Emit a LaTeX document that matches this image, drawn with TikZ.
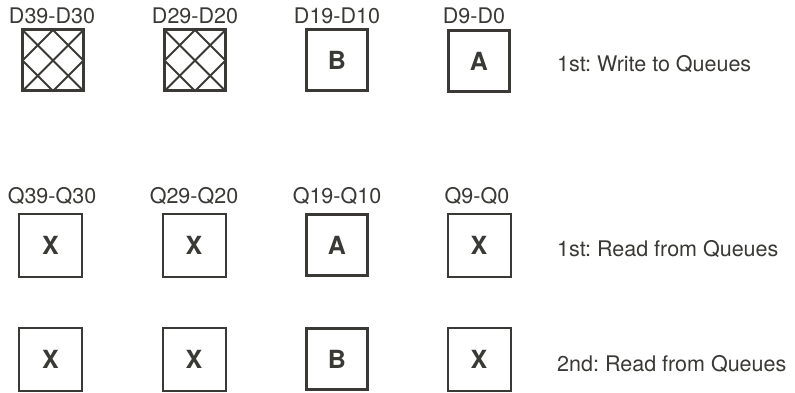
\documentclass[tikz,border=0pt]{standalone}
\usepackage{fontspec}
\setmainfont{TeX Gyre Heros}
\usetikzlibrary{positioning}
\frenchspacing
\definecolor{ink}{HTML}{3A3936}
\tikzset{
  every node/.style={text=ink},
  box/.style={draw=ink, line width=2pt, minimum size=63pt, inner sep=0pt, outer sep=0pt,
    font=\fontsize{25}{27}\selectfont\bfseries},
  hot/.style={box, line width=3pt, minimum size=61pt},
  lbl/.style={anchor=base, inner sep=0pt, font=\fontsize{21.5}{24}\selectfont},
  note/.style={anchor=west, inner sep=0pt, font=\fontsize{21.5}{24}\selectfont},
  hatch/.style={draw=ink, line width=2pt},
}

\begin{document}
\begin{tikzpicture}[x=1pt, y=-1pt]
  \useasboundingbox (0,0) rectangle (795,393);

  % ---- first write ------------------------------------------------------
  \node[hot] (d39) at (53,60.5) {};
  \node[hot] (d29) at (195,60.5) {};
  \node[hot] (d19) at (337,60) {B};
  \node[hot] (d9) at (479,61) {A};
  \node[lbl] at (52,24) {D39-D30};
  \node[lbl] at (195,24) {D29-D20};
  \node[lbl] at (337,24) {D19-D10};
  \node[lbl] at (474,24) {D9-D0};
  \node[note] (w1) at (557,64) {1st: Write to Queues};

  % cross hatching in the unused slots
  \foreach \b in {d39,d29} {
    \draw[hatch] (\b.north) -- (\b.west);
    \draw[hatch] (\b.north east) -- (\b.south west);
    \draw[hatch] (\b.east) -- (\b.south);
    \draw[hatch] (\b.north west) -- (\b.south east);
    \draw[hatch] (\b.north) -- (\b.east);
    \draw[hatch] (\b.west) -- (\b.south);
  }

  % ---- first read ---------------------------------------------------------
  \node[box] (q39a) at (50.5,245) {X};
  \node[box] (q29a) at (194,245) {X};
  \node[hot] (q19a) at (337,245) {A};
  \node[box] (q9a) at (479,245) {X};
  \node[lbl] at (52,203) {Q39-Q30};
  \node[lbl] at (194,203) {Q29-Q20};
  \node[lbl] at (337,203) {Q19-Q10};
  \node[lbl] at (477,203) {Q9-Q0};
  \node[note] (r1) at (557,249) {1st: Read from Queues};

  % ---- second read --------------------------------------------------------
  \node[box] (q39b) at (50.5,359) {X};
  \node[box] (q29b) at (194,359) {X};
  \node[hot] (q19b) at (337,359) {B};
  \node[box] (q9b) at (479,359) {X};
  \node[note] (r2) at (557,364) {2nd: Read from Queues};
\end{tikzpicture}
\end{document}
